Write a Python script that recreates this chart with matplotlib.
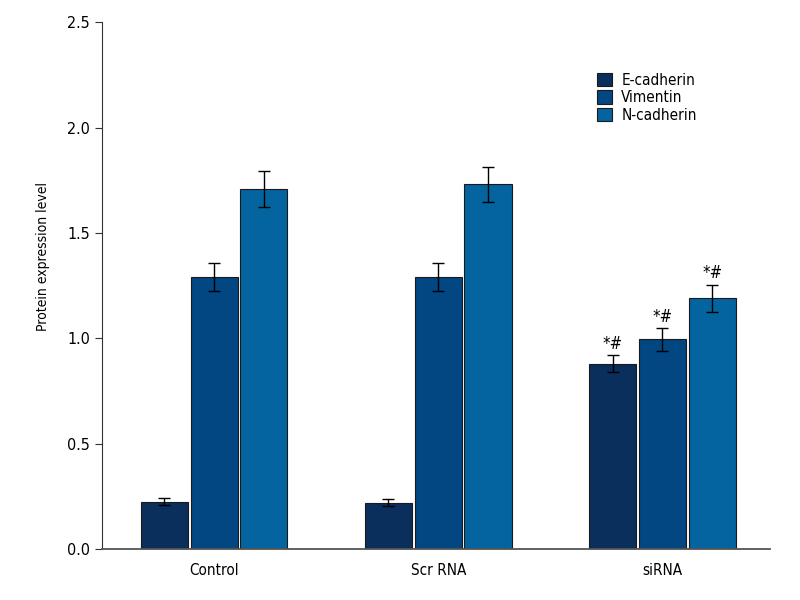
import numpy as np
import matplotlib.pyplot as plt

groups = ['Control', 'Scr RNA', 'siRNA']
series = ['E-cadherin', 'Vimentin', 'N-cadherin']
e_cad = [0.225, 0.22, 0.88]
e_cad_err = [0.015, 0.015, 0.04]
vim = [1.29, 1.29, 0.995]
vim_err = [0.065, 0.065, 0.055]
n_cad = [1.71, 1.73, 1.19]
n_cad_err = [0.085, 0.085, 0.065]
marks = ['', '', '*#']

colors = ['#0a2f5c', '#024682', '#04649f']

plt.rcParams['font.family'] = ['DejaVu Sans']
plt.rcParams['font.stretch'] = 'condensed'

fig = plt.figure(figsize=(8, 6), dpi=100)
ax = fig.add_axes([0.1275, 0.085, 0.835, 0.878])

x = np.arange(len(groups))
w = 0.21
step = 0.222
vals = [e_cad, vim, n_cad]
errs = [e_cad_err, vim_err, n_cad_err]
for i in range(3):
    pos = x + (i - 1) * step
    ax.bar(pos, vals[i], w, yerr=errs[i], color=colors[i], edgecolor='#1a1a1a',
           linewidth=0.8, label=series[i],
           error_kw=dict(ecolor='black', elinewidth=1, capsize=4, capthick=1))
    for j in range(3):
        if marks[j]:
            ax.text(pos[j], vals[i][j] + errs[i][j] + 0.01, marks[j],
                    ha='center', va='bottom', fontsize=12)

ax.set_xlim(-0.5, 2.48)
ax.set_ylim(0, 2.5)
ax.set_yticks([0, 0.5, 1.0, 1.5, 2.0, 2.5])
ax.set_yticklabels(['0.0', '0.5', '1.0', '1.5', '2.0', '2.5'])
ax.set_xticks(x)
ax.set_xticklabels(groups)
ax.tick_params(axis='x', length=0, pad=10, labelsize=11)
ax.tick_params(axis='y', length=5, labelsize=11.5, color='#333333')
ax.set_ylabel('Protein expression level', fontsize=10)
ax.yaxis.set_label_coords(-0.078, 0.556)
for s in ['top', 'right']:
    ax.spines[s].set_visible(False)
ax.spines['left'].set_color('#333333')
ax.spines['bottom'].set_color('#555555')
ax.spines['bottom'].set_linewidth(1.3)

ax.legend(loc='upper left', bbox_to_anchor=(0.72, 0.93), frameon=False,
          fontsize=11, handlelength=1.0, handleheight=1.0, handletextpad=0.6,
          labelspacing=0.15)

plt.savefig('out.png', dpi=100)
